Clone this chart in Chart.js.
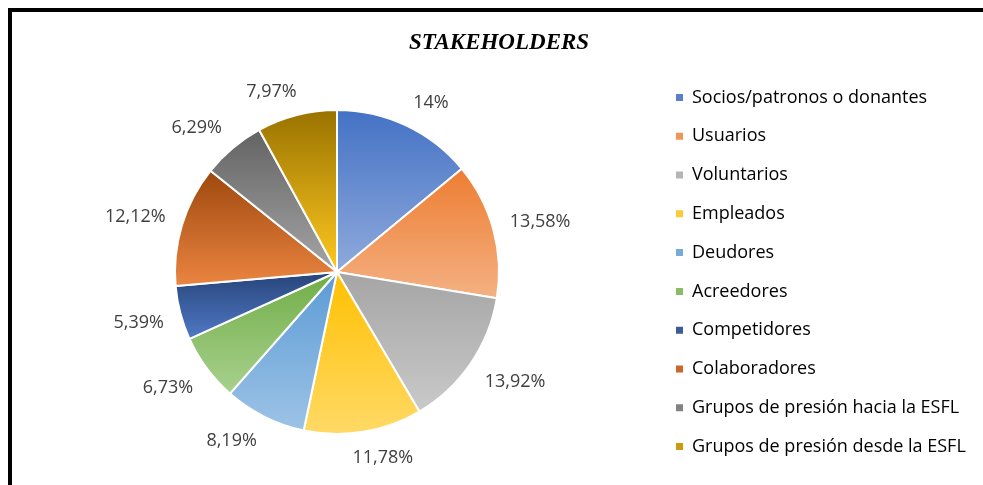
<!DOCTYPE html>
<html>
<head>
<meta charset="utf-8">
<script src="https://cdn.jsdelivr.net/npm/chart.js@4.4.0/dist/chart.umd.min.js"></script>
<style>
    html, body { margin: 0; padding: 0; background: #fff; overflow: hidden; }
    #marco {
        position: absolute; left: 8px; top: 8px; width: 1000px; height: 500px;
        border-top: 4px solid #000; border-left: 4px solid #000; box-sizing: border-box;
    }
    #grafico { position: absolute; left: 0; top: 0; }
</style>
</head>
<body>
<div id="marco"></div>
<canvas id="grafico" width="983" height="485"></canvas>
<script>
// === Datos del gráfico ===
const titulo = 'STAKEHOLDERS';
const grupos = [
    'Socios/patronos o donantes',
    'Usuarios',
    'Voluntarios',
    'Empleados',
    'Deudores',
    'Acreedores',
    'Competidores',
    'Colaboradores',
    'Grupos de presión hacia la ESFL',
    'Grupos de presión desde la ESFL'
];
const porcentajes = [14, 13.58, 13.92, 11.78, 8.19, 6.73, 5.39, 12.12, 6.29, 7.97];

// colores: arriba (oscuro) -> abajo (claro) de cada porción
const coloresArriba = ['#4472C4', '#ED7D31', '#A5A5A5', '#FFC000', '#5B9BD5', '#70AD47', '#264478', '#9E480E', '#636363', '#997300'];
const coloresAbajo = ['#8FAADC', '#F4B183', '#C9C9C9', '#FFD966', '#9DC3E6', '#A9D18E', '#5079C6', '#EB8541', '#A5A5A5', '#FFC820'];
const coloresLeyenda = ['#5A80CC', '#F09457', '#B5B5B5', '#FFC936', '#74ABDC', '#88BC65', '#3A5A9A', '#C96628', '#828282', '#CC9A10'];

const RADIO = 162;
const FUENTE = '"Open Sans"';
const TAM_LEYENDA = 18;
const PAD_LEYENDA = 20.8;

// extremos verticales de una porción, para el degradado
function extremosY(chart, i) {
    const area = chart.chartArea;
    const cy = (area.top + area.bottom) / 2;
    const total = porcentajes.reduce((a, b) => a + b, 0);
    let ini = 0;
    for (let k = 0; k < i; k++) ini += porcentajes[k];
    const a0 = ini / total * 2 * Math.PI;
    const a1 = (ini + porcentajes[i]) / total * 2 * Math.PI;
    const ys = [cy, cy - RADIO * Math.cos(a0), cy - RADIO * Math.cos(a1)];
    if (a0 < Math.PI && a1 > Math.PI) ys.push(cy + RADIO);
    return [Math.min(...ys), Math.max(...ys)];
}

function fondoPorcion(context) {
    const chart = context.chart;
    const i = context.dataIndex;
    if (!chart.chartArea || i === undefined) return coloresArriba[i || 0];
    const [y0, y1] = extremosY(chart, i);
    const g = chart.ctx.createLinearGradient(0, y0, 0, y1);
    g.addColorStop(0, coloresArriba[i]);
    g.addColorStop(1, coloresAbajo[i]);
    return g;
}

// ancho de la leyenda, para dejar la tarta centrada en x = 337
const medidor = document.createElement('canvas').getContext('2d');
medidor.font = TAM_LEYENDA + 'px ' + FUENTE;
const textoMax = Math.max(...grupos.map(g => medidor.measureText(g).width));
const anchoLeyenda = PAD_LEYENDA + 7 + TAM_LEYENDA / 2 + textoMax + 10;
const izqLeyenda = 676 - PAD_LEYENDA;
const padDerecha = Math.max(0, 983 - izqLeyenda - anchoLeyenda);
const padIzquierda = 2 * 337 - (983 - padDerecha - anchoLeyenda);

// etiquetas de porcentaje fuera de la tarta
const etiquetasFuera = {
    id: 'etiquetasFuera',
    afterDatasetsDraw(chart) {
        const ctx = chart.ctx;
        const arcos = chart.getDatasetMeta(0).data;
        ctx.save();
        ctx.font = '18px ' + FUENTE;
        ctx.fillStyle = '#404040';
        ctx.textAlign = 'center';
        ctx.textBaseline = 'middle';
        arcos.forEach((arco, i) => {
            const texto = String(porcentajes[i]).replace('.', ',') + '%';
            const medio = (arco.startAngle + arco.endAngle) / 2;
            const d = arco.outerRadius + 17;
            const px = arco.x + d * Math.cos(medio);
            const py = arco.y + d * Math.sin(medio);
            const w = ctx.measureText(texto).width;
            const fx = Math.max(-1, Math.min(1, 3.4 * Math.cos(medio)));
            const fy = Math.max(-1, Math.min(1, 2 * Math.sin(medio)));
            ctx.fillText(texto, px + fx * w / 2, py + fy * 8 + 1);
        });
        ctx.restore();
    }
};

// título centrado sobre todo el marco
const tituloFijo = {
    id: 'tituloFijo',
    afterDraw(chart) {
        const ctx = chart.ctx;
        ctx.save();
        ctx.font = 'italic bold 23px "Liberation Serif"';
        ctx.fillStyle = '#000';
        ctx.textAlign = 'center';
        ctx.textBaseline = 'alphabetic';
        ctx.fillText(titulo, 499, 49);
        ctx.restore();
    }
};

new Chart(document.getElementById('grafico'), {
    type: 'pie',
    data: {
        labels: grupos,
        datasets: [{
            data: porcentajes,
            backgroundColor: fondoPorcion,
            borderColor: '#fff',
            borderWidth: 2,
            radius: RADIO
        }]
    },
    options: {
        responsive: false,
        animation: false,
        layout: { padding: { left: padIzquierda, right: padDerecha, top: 59, bottom: 0 } },
        plugins: {
            title: { display: false },
            tooltip: { enabled: false },
            legend: {
                position: 'right',
                align: 'center',
                labels: {
                    boxWidth: 7,
                    boxHeight: 7,
                    padding: PAD_LEYENDA,
                    color: '#404040',
                    font: { family: 'Open Sans', size: TAM_LEYENDA },
                    generateLabels: (chart) => grupos.map((g, i) => ({
                        text: g,
                        fillStyle: coloresLeyenda[i],
                        strokeStyle: 'transparent',
                        lineWidth: 0,
                        hidden: false,
                        index: i
                    }))
                }
            }
        }
    },
    plugins: [etiquetasFuera, tituloFijo]
});
</script>
</body>
</html>
